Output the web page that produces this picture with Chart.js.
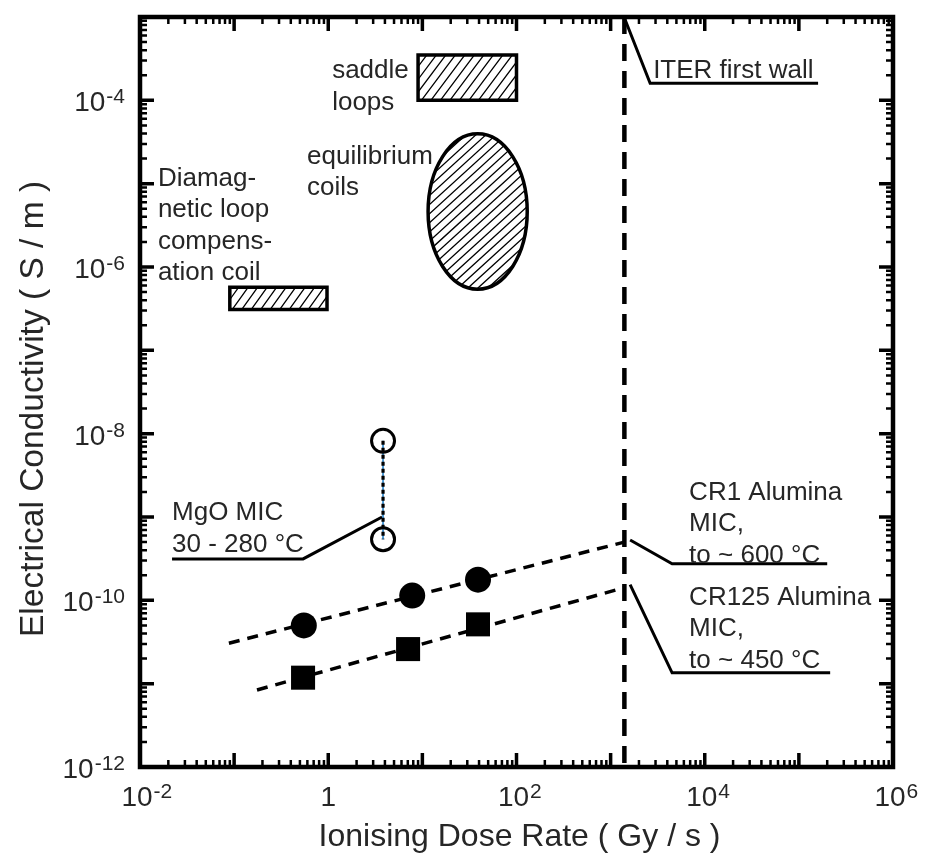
<!DOCTYPE html>
<html><head><meta charset="utf-8">
<script src="https://cdn.jsdelivr.net/npm/chart.js@4.4.1/dist/chart.umd.min.js"></script>
<style>html,body{margin:0;padding:0;background:#fff;}canvas{display:block}</style>
</head><body>
<canvas id="c" width="936" height="856"></canvas>
<script>
// ---------------- data ----------------
const xRange = [1e-2, 1e6];
const yRange = [1e-12, 1e-3];
const xTickValues = [1e-2, 1, 1e2, 1e4, 1e6];
const xTickBase = ['10', '1', '10', '10', '10'];
const xTickExp = ['-2', '', '2', '4', '6'];
const yTickValues = [1e-12, 1e-10, 1e-8, 1e-6, 1e-4];
const yTickBase = ['10', '10', '10', '10', '10'];
const yTickExp = ['-12', '-10', '-8', '-6', '-4'];
const xTitle = 'Ionising Dose Rate ( Gy / s )';
const yTitle = 'Electrical Conductivity ( S / m )';

// CR1 alumina MIC (filled circles) and CR125 alumina MIC (filled squares)
const cr1Dose = [0.55, 7.8, 39];
const cr1Cond = [5.0e-11, 1.14e-10, 1.77e-10];
const cr125Dose = [0.54, 7.05, 39];
const cr125Cond = [1.18e-11, 2.6e-11, 5.15e-11];
// dashed trend lines
const cr1FitDose = [0.088, 1400];
const cr1FitCond = [3.06e-11, 5.0e-10];
const cr125FitDose = [0.175, 1400];
const cr125FitCond = [8.4e-12, 1.42e-10];
// MgO MIC (open circles)
const mgoDose = [3.82, 3.82];
const mgoCond = [8.2e-9, 5.4e-10];
// ITER first wall dose rate
const iterDose = [1400, 1400];
const iterCond = [1e-3, 1e-12];
// requirement regions
const saddleDose = [9, 100];
const saddleCond = [1e-4, 3.5e-4];
const equilDose = [11.5, 130];
const equilCond = [5.4e-7, 3.96e-5];
const diamagDose = [0.09, 0.97];
const diamagCond = [3.1e-7, 5.7e-7];
// leader lines
const iterLeadDose = [1426, 2630, 1.6e5];
const iterLeadCond = [9.25e-4, 1.6e-4, 1.6e-4];
const mgoLeadDose = [0.0219, 0.54, 3.73];
const mgoLeadCond = [3.14e-10, 3.14e-10, 1.0e-9];
const cr1LeadDose = [1611, 4500, 2.0e5];
const cr1LeadCond = [5.3e-10, 2.74e-10, 2.74e-10];
const cr125LeadDose = [1611, 4500, 2.15e5];
const cr125LeadCond = [1.54e-10, 1.35e-11, 1.35e-11];
// annotation texts
const saddleText = ['saddle', 'loops'];
const equilText = ['equilibrium', 'coils'];
const diamagText = ['Diamag-', 'netic loop', 'compens-', 'ation coil'];
const iterText = ['ITER first wall'];
const mgoText = ['MgO MIC', '30 - 280 \u00B0C'];
const cr1Text = ['CR1 Alumina', 'MIC,', 'to ~ 600 \u00B0C'];
const cr125Text = ['CR125 Alumina', 'MIC,', 'to ~ 450 \u00B0C'];
// anchors (dose, conductivity) of the first text line
const textAnchors = [
  [saddleText, 1.10, 1.84e-4],
  [equilText, 0.596, 1.74e-5],
  [diamagText, 0.0155, 9.5e-6],
  [iterText, 2830, 1.84e-4],
  [mgoText, 0.0219, 9.1e-10],
  [cr1Text, 6820, 1.62e-9],
  [cr125Text, 6820, 8.9e-11]
];

// ---------------- drawing ----------------
const pts = (xs, ys) => xs.map((x, i) => ({x: x, y: ys[i]}));
const FONT = '"Liberation Sans", Arial, sans-serif';
const TXT = '#262626';

function lineDS(xs, ys, w, dash, color) {
  return {data: pts(xs, ys), showLine: true, pointRadius: 0, borderWidth: w,
    borderDash: dash || [], borderColor: color || '#000', fill: false, tension: 0};
}

function hatch(ctx, x0, y0, x1, y1, pathFn, spacing, angleDeg) {
  ctx.save();
  pathFn(); ctx.clip();
  ctx.lineWidth = 1.3; ctx.strokeStyle = '#000';
  const h = y1 - y0;
  const dx = h / Math.tan(angleDeg * Math.PI / 180);
  ctx.beginPath();
  for (let x = x0 - dx - spacing; x < x1 + spacing; x += spacing) {
    ctx.moveTo(x, y1 + 1); ctx.lineTo(x + dx, y0 - 1);
  }
  ctx.stroke();
  ctx.restore();
}

const decor = {
  id: 'decor',
  beforeDatasetsDraw(chart) {
    const ctx = chart.ctx, xs = chart.scales.x, ys = chart.scales.y;
    const rects = [[saddleDose, saddleCond], [diamagDose, diamagCond]];
    rects.forEach(([d, c]) => {
      const x0 = xs.getPixelForValue(d[0]), x1 = xs.getPixelForValue(d[1]);
      const y0 = ys.getPixelForValue(c[1]), y1 = ys.getPixelForValue(c[0]);
      const path = () => { ctx.beginPath(); ctx.rect(x0, y0, x1 - x0, y1 - y0); };
      hatch(ctx, x0, y0, x1, y1, path, 9.5, 52);
      ctx.save(); ctx.lineWidth = 3.5; ctx.strokeStyle = '#000'; path(); ctx.stroke(); ctx.restore();
    });
    {
      const x0 = xs.getPixelForValue(equilDose[0]), x1 = xs.getPixelForValue(equilDose[1]);
      const y0 = ys.getPixelForValue(equilCond[1]), y1 = ys.getPixelForValue(equilCond[0]);
      const cx = (x0 + x1) / 2, cy = (y0 + y1) / 2, rx = (x1 - x0) / 2, ry = (y1 - y0) / 2;
      const path = () => { ctx.beginPath(); ctx.ellipse(cx, cy, rx, ry, 0, 0, Math.PI * 2); };
      hatch(ctx, x0, y0, x1, y1, path, 10, 42);
      ctx.save(); ctx.lineWidth = 3.5; ctx.strokeStyle = '#000'; path(); ctx.stroke(); ctx.restore();
    }
  },
  afterDatasetsDraw(chart) {
    const ctx = chart.ctx, xs = chart.scales.x, ys = chart.scales.y;
    const a = chart.chartArea;
    ctx.save();
    // ticks
    ctx.strokeStyle = '#000';
    for (let d = Math.log10(xRange[0]); d < Math.log10(xRange[1]) + 0.5; d++) {
      for (let m = 1; m <= 9; m++) {
        const v = m * Math.pow(10, d);
        if (v < xRange[0] * 0.999 || v > xRange[1] * 1.001) continue;
        const p = xs.getPixelForValue(v);
        const L = m === 1 ? 14 : 7;
        ctx.lineWidth = m === 1 ? 3.5 : 2.5;
        ctx.beginPath();
        ctx.moveTo(p, a.bottom); ctx.lineTo(p, a.bottom - L);
        ctx.moveTo(p, a.top); ctx.lineTo(p, a.top + L);
        ctx.stroke();
      }
    }
    for (let d = Math.log10(yRange[0]); d < Math.log10(yRange[1]) + 0.5; d++) {
      for (let m = 1; m <= 9; m++) {
        const v = m * Math.pow(10, d);
        if (v < yRange[0] * 0.999 || v > yRange[1] * 1.001) continue;
        const p = ys.getPixelForValue(v);
        const L = m === 1 ? 14 : 7;
        ctx.lineWidth = m === 1 ? 3.5 : 2.5;
        ctx.beginPath();
        ctx.moveTo(a.left, p); ctx.lineTo(a.left + L, p);
        ctx.moveTo(a.right, p); ctx.lineTo(a.right - L, p);
        ctx.stroke();
      }
    }
    // frame
    ctx.lineWidth = 4.5;
    ctx.strokeRect(a.left, a.top, a.right - a.left, a.bottom - a.top);

    // tick labels
    ctx.fillStyle = TXT;
    ctx.textBaseline = 'alphabetic';
    const bigF = '28px ' + FONT, supF = '21px ' + FONT;
    xTickValues.forEach((v, i) => {
      const p = xs.getPixelForValue(v);
      ctx.font = bigF; const wb = ctx.measureText(xTickBase[i]).width;
      ctx.font = supF; const we = xTickExp[i] ? ctx.measureText(xTickExp[i]).width : 0;
      const left = p - wb / 2 - (we ? 3 : 0);
      ctx.textAlign = 'left';
      ctx.font = bigF; ctx.fillText(xTickBase[i], left, a.bottom + 39);
      if (we) { ctx.font = supF; ctx.fillText(xTickExp[i], left + wb + 1, a.bottom + 31); }
    });
    yTickValues.forEach((v, i) => {
      const p = ys.getPixelForValue(v);
      ctx.textAlign = 'right';
      ctx.font = supF; const we = ctx.measureText(yTickExp[i]).width;
      ctx.fillText(yTickExp[i], a.left - 15, p + 3);
      ctx.font = bigF; ctx.fillText(yTickBase[i], a.left - 15 - we - 1, p + 11);
    });
    // axis titles
    ctx.textAlign = 'center';
    ctx.font = '32px ' + FONT;
    ctx.fillText(xTitle, (a.left + a.right) / 2 + 3, a.bottom + 79);
    ctx.save();
    ctx.translate(43, (a.top + a.bottom) / 2 + 17);
    ctx.rotate(-Math.PI / 2);
    ctx.font = '33.5px ' + FONT;
    ctx.fillText(yTitle, 0, 0);
    ctx.restore();

    // annotations
    ctx.textAlign = 'left';
    ctx.font = '26px ' + FONT;
    textAnchors.forEach(([lines, dx, cy]) => {
      const px = xs.getPixelForValue(dx), py = ys.getPixelForValue(cy);
      lines.forEach((t, k) => ctx.fillText(t, px, py + k * 31.5));
    });
    ctx.restore();
  }
};

new Chart(document.getElementById('c'), {
  type: 'scatter',
  data: {
    datasets: [
      {data: pts(cr1Dose, cr1Cond), pointStyle: 'circle', pointRadius: 13,
        backgroundColor: '#000', borderColor: '#000', borderWidth: 0, showLine: false},
      {data: pts(cr125Dose, cr125Cond), pointStyle: 'rect', pointRadius: 17,
        backgroundColor: '#000', borderColor: '#000', borderWidth: 0, showLine: false},
      {data: pts(mgoDose, mgoCond), pointStyle: 'circle', pointRadius: 11.5,
        backgroundColor: 'rgba(0,0,0,0)', borderColor: '#000', borderWidth: 3, showLine: false},
      lineDS(cr1FitDose, cr1FitCond, 3.5, [11, 8]),
      lineDS(cr125FitDose, cr125FitCond, 3.5, [11, 8]),
      lineDS(mgoDose, mgoCond, 3.2, [4, 3]),
      lineDS(mgoDose, mgoCond, 1, [], '#3a8fd0'),
      lineDS(iterDose, iterCond, 4.5, [17, 10]),
      lineDS(iterLeadDose, iterLeadCond, 3),
      lineDS(mgoLeadDose, mgoLeadCond, 3),
      lineDS(cr1LeadDose, cr1LeadCond, 3),
      lineDS(cr125LeadDose, cr125LeadCond, 3)
    ]
  },
  options: {
    responsive: false,
    animation: false,
    layout: {padding: {left: 140, right: 43, top: 10, bottom: 89}},
    scales: {
      x: {type: 'logarithmic', min: xRange[0], max: xRange[1], display: false},
      y: {type: 'logarithmic', min: yRange[0], max: yRange[1], display: false}
    },
    plugins: {legend: {display: false}, tooltip: {enabled: false}},
    events: []
  },
  plugins: [decor]
});
</script>
</body></html>
